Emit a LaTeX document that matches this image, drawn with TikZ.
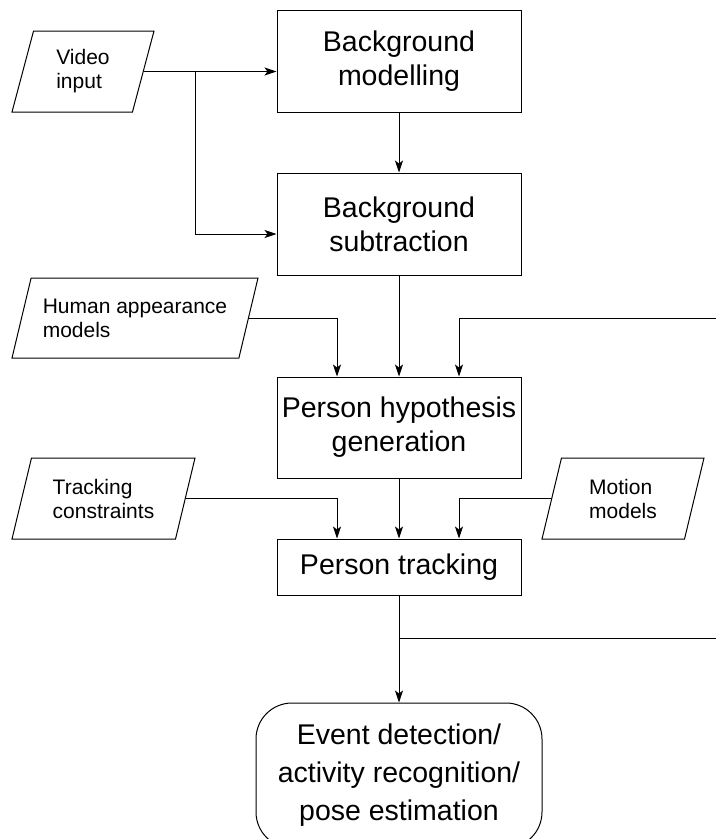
\documentclass[tikz,border=0pt]{standalone}
\usepackage{fontspec}
\setmainfont{Liberation Sans}
\usetikzlibrary{shapes.geometric,arrows.meta,positioning}

\begin{document}
\begin{tikzpicture}[
	x=1pt,
	y=-1pt,
	line width=1pt,
	>={Stealth[length=12pt,width=8pt,inset=3pt]},
	process/.style={draw, rectangle, minimum width=244pt, align=center, font=\fontsize{28.5}{34}\selectfont},
	data/.style={draw, trapezium, trapezium left angle=63.7, trapezium right angle=116.3, trapezium stretches body, minimum height=81pt, align=left, inner sep=0pt, font=\fontsize{21}{24}\selectfont},
	final/.style={draw, rectangle, rounded corners=36pt, minimum width=286pt, minimum height=145pt, align=center, font=\fontsize{28.5}{38}\selectfont}
]
	\useasboundingbox (0,0) rectangle (716,839);

	\node[data, minimum width=142pt] (video) at (83,71.5) {Video\\input};
	\node[process, minimum height=102pt] (bgmodel) at (399,61) {Background\\modelling};
	\node[process, minimum height=102pt] (bgsub) at (399,224) {Background\\subtraction};
	\node[data, minimum width=246pt, minimum height=80pt] (appearance) at (135,318) {Human appearance\\models};
	\node[process, minimum height=101pt] (hypothesis) at (399,427.5) {Person hypothesis\\generation};
	\node[data, minimum width=183pt] (constraints) at (103.5,498.5) {Tracking\\constraints};
	\node[data, minimum width=162pt] (motion) at (623,498.5) {Motion\\models};
	\node[process, minimum height=56pt] (tracking) at (399,567) {Person tracking};
	\node[final] (event) at (399,775.5) {Event detection/\\activity recognition/\\pose estimation};

	\coordinate (split1) at (195,71.5);
	\coordinate (feedback1) at (716,318);
	\coordinate (split2) at (399,638);
	\coordinate (feedback2) at (716,638);

	\draw[->] (video.east) -- (video.east -| bgmodel.west);
	\draw[->] (split1) |- ([yshift=-10pt]bgsub.west);
	\draw[->] (bgmodel) -- (bgsub);
	\draw[->] (bgsub) -- (hypothesis);
	\draw[->] (appearance.east) -| ([xshift=-62pt]hypothesis.north);
	\draw[->] (feedback1) -| ([xshift=60pt]hypothesis.north);
	\draw[->] (hypothesis) -- (tracking);
	\draw[->] (constraints.east) -| ([xshift=-62pt]tracking.north);
	\draw[->] (motion.west) -| ([xshift=60pt]tracking.north);
	\draw[->] (tracking) -- (event);
	\draw (split2) -- (feedback2);
\end{tikzpicture}
\end{document}
